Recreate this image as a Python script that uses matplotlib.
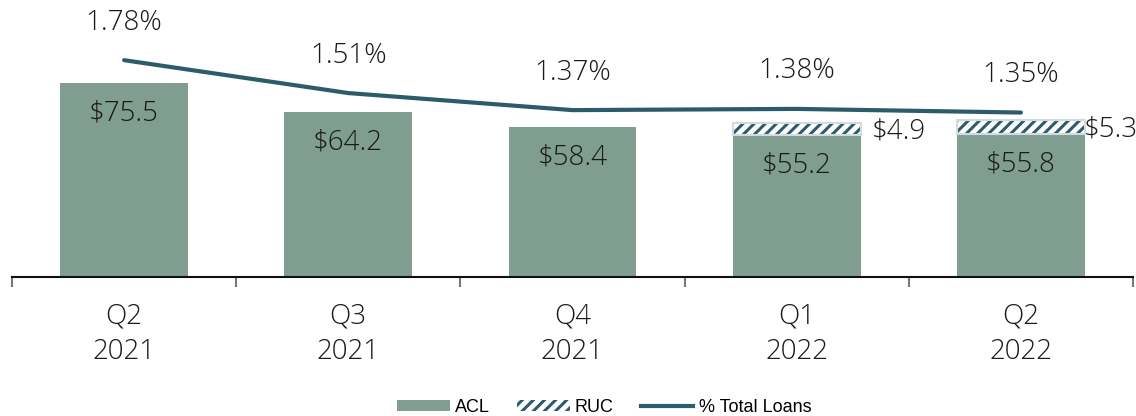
import numpy as np
import matplotlib.pyplot as plt
from matplotlib.patches import Patch
from matplotlib.lines import Line2D

quarters = ["Q2\n2021", "Q3\n2021", "Q4\n2021", "Q1\n2022", "Q2\n2022"]
acl = [75.5, 64.2, 58.4, 55.2, 55.8]
ruc = [0, 0, 0, 4.9, 5.3]
pct_loans = [1.78, 1.51, 1.37, 1.38, 1.35]

bar_color = "#7f9e90"
line_color = "#2c5b6b"
text_color = "#1a1a1a"

plt.rcParams["font.family"] = ["Open Sans", "DejaVu Sans"]
plt.rcParams["font.weight"] = "light"
plt.rcParams["hatch.linewidth"] = 2.2

fig = plt.figure(figsize=(11.36, 4.16), dpi=100)
ax = fig.add_axes([12 / 1136, 139 / 416, 1121 / 1136, 277 / 416])
x = np.arange(len(quarters))
w = 0.57

ax.bar(x, acl, width=w, color=bar_color, zorder=2)
for i, v in enumerate(acl):
    ax.annotate(f"${v:.1f}", (x[i], v), xytext=(0, -22), textcoords="offset points",
                ha="center", va="center", fontsize=20, color=text_color)

# RUC on top of ACL, hatch drawn first then a light border
for i, v in enumerate(ruc):
    if v == 0:
        continue
    ax.bar(x[i], v, width=w, bottom=acl[i], color="white", edgecolor=line_color,
           hatch="///", linewidth=0, zorder=2)
    ax.bar(x[i], v, width=w, bottom=acl[i], fill=False, edgecolor="#d3dbe0",
           linewidth=1.5, zorder=3)
ruc_dx = [0, 0, 0, 8, -1]
for i, v in enumerate(ruc):
    if v == 0:
        continue
    ax.annotate(f"${v:.1f}", (x[i] + w / 2, acl[i] + v / 2), xytext=(ruc_dx[i], -2),
                textcoords="offset points", ha="left", va="center", fontsize=20,
                color=text_color)

ax.set_xlim(-0.5, len(quarters) - 0.5)
ax.set_ylim(0, 107.8)
ax.set_yticks([])
for s in ["top", "right", "left"]:
    ax.spines[s].set_visible(False)
ax.spines["bottom"].set_linewidth(1.5)
ax.spines["bottom"].set_color("#111111")

ax.set_xticks(np.arange(-0.5, len(quarters)), labels=[""] * (len(quarters) + 1))
ax.tick_params(axis="x", length=7.5, width=1.5, color="#777777")
ax.set_xticks(x, labels=quarters, minor=True)
ax.tick_params(axis="x", which="minor", length=0, pad=18, labelsize=20,
               labelcolor=text_color)
for t in ax.get_xticklabels(minor=True):
    t.set_linespacing(1.4)

ax2 = ax.twinx()
ax2.set_ylim(0, 2.274)
ax2.axis("off")
ax2.plot(x, pct_loans, color=line_color, linewidth=3, solid_capstyle="round", zorder=4)
for i, v in enumerate(pct_loans):
    ax2.annotate(f"{v:.2f}%", (x[i], v), xytext=(0, 27), textcoords="offset points",
                 ha="center", va="center", fontsize=20, color=text_color)

handles = [
    Patch(facecolor=bar_color, label="ACL"),
    Patch(facecolor="white", edgecolor=line_color, hatch="///", linewidth=0, label="RUC"),
    Line2D([0], [0], color=line_color, linewidth=3, label="% Total Loans"),
]
fig.legend(handles=handles, loc="center", bbox_to_anchor=(0.532, 9 / 416),
           ncol=3, frameon=False, handlelength=2.9, handleheight=0.55,
           handletextpad=0.3, columnspacing=1.5,
           prop={"family": ["Liberation Sans", "DejaVu Sans"], "size": 13,
                 "weight": "normal"})

fig.savefig("out.png", dpi=100)
